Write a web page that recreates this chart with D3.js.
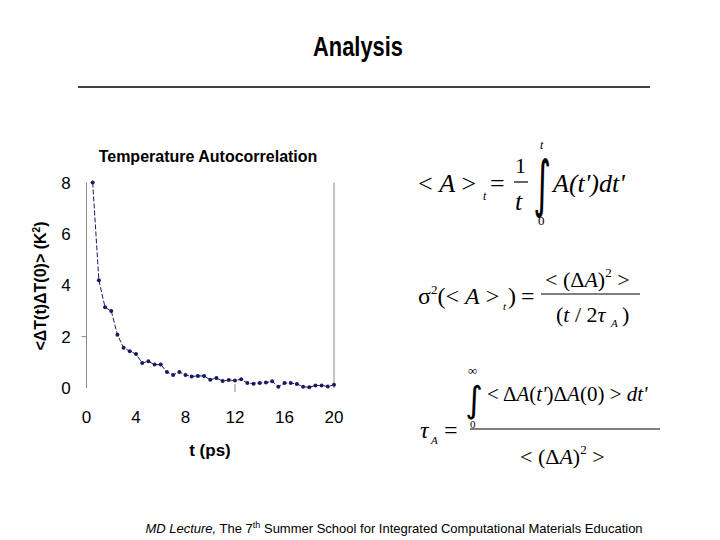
<!DOCTYPE html>
<html><head><meta charset="utf-8">
<script src="https://cdn.jsdelivr.net/npm/d3@7"></script>
<style>body{margin:0;background:#fff}</style>
</head><body>
<svg id="chart" width="720" height="540"></svg>
<script>
// autocorrelation samples
const times = [0.5,1,1.5,2,2.5,3,3.5,4,4.5,5,5.5,6,6.5,7,7.5,8,8.5,9,9.5,10,
  10.5,11,11.5,12,12.5,13,13.5,14,14.5,15,15.5,16,16.5,17,17.5,18,18.5,19,19.5,20];
const values = [8.0,4.19,3.14,3.0,2.07,1.57,1.43,1.32,0.97,1.04,0.91,0.91,0.62,0.51,0.62,0.51,0.45,0.47,0.47,0.32,
  0.39,0.27,0.31,0.29,0.34,0.19,0.17,0.19,0.21,0.26,0.05,0.19,0.19,0.16,0.05,0.03,0.10,0.10,0.06,0.13];
const xTicks = [0,4,8,12,16,20];
const yTicks = [0,2,4,6,8];

const svg = d3.select("#chart");
const navy = "#1a1a5e";

// slide title + rule
svg.append("text").attr("transform", "translate(358,56) scale(0.78,1)").attr("text-anchor", "middle")
  .style("font", "bold 28px 'Liberation Sans', Arial, sans-serif").text("Analysis");
svg.append("line").attr("x1", 78).attr("x2", 650).attr("y1", 87).attr("y2", 87)
  .attr("stroke", "#000").attr("stroke-width", 1.5);

// chart
const x = d3.scaleLinear().domain([0, 20]).range([86.5, 334]);
const y = d3.scaleLinear().domain([0, 8]).range([388, 182.5]);
const g = svg.append("g");
const font = "Liberation Sans, Arial, sans-serif";

g.append("text").attr("x", 208).attr("y", 162).attr("text-anchor", "middle")
  .style("font", `bold 16px ${font}`).text("Temperature Autocorrelation");

g.append("line").attr("x1", x(0)).attr("x2", x(0)).attr("y1", y(8)).attr("y2", y(0))
  .attr("stroke", "#888");
g.append("line").attr("x1", x(20)).attr("x2", x(20)).attr("y1", y(8)).attr("y2", y(0))
  .attr("stroke", "#888");
g.append("line").attr("x1", x(0) - 5).attr("x2", x(0)).attr("y1", y(2)).attr("y2", y(2))
  .attr("stroke", "#888");
g.append("line").attr("x1", x(12)).attr("x2", x(12)).attr("y1", y(0) - 4).attr("y2", y(0) + 4)
  .attr("stroke", "#888");

g.selectAll("text.yt").data(yTicks).join("text").attr("class", "yt")
  .attr("x", 66).attr("y", d => y(d) + 6).attr("text-anchor", "middle")
  .style("font", `17px ${font}`).text(d => d);
g.selectAll("text.xt").data(xTicks).join("text").attr("class", "xt")
  .attr("x", d => x(d)).attr("y", 423).attr("text-anchor", "middle")
  .style("font", `17px ${font}`).text(d => d);

g.append("text").attr("x", 210).attr("y", 456).attr("text-anchor", "middle")
  .style("font", `bold 17px ${font}`).text("t (ps)");
g.append("text").attr("transform", "translate(46,286) rotate(-90)").attr("text-anchor", "middle")
  .style("font", `bold 16px ${font}`)
  .html("&lt;ΔT(t)ΔT(0)&gt; (K<tspan dy='-6' font-size='10'>2</tspan><tspan dy='6'>)</tspan>");

const pts = times.map((t, i) => [t, values[i]]);
g.append("path").datum(pts)
  .attr("d", d3.line().x(d => x(d[0])).y(d => y(d[1])))
  .attr("fill", "none").attr("stroke", navy).attr("stroke-width", 1)
  .attr("stroke-dasharray", "5,2");
g.selectAll("circle").data(pts).join("circle")
  .attr("cx", d => x(d[0])).attr("cy", d => y(d[1])).attr("r", 2).attr("fill", navy);

// formulas
const tf = "'Liberation Serif', 'DejaVu Serif', serif";
const txt = (xx, yy, s, size, italic) => svg.append("text").attr("x", xx).attr("y", yy)
  .style("font-family", tf).style("font-size", size + "px")
  .style("font-style", italic ? "italic" : "normal").html(s);
const bar = (x1, x2, yy) => svg.append("line").attr("x1", x1).attr("x2", x2)
  .attr("y1", yy).attr("y2", yy).attr("stroke", "#000").attr("stroke-width", 1.2);
// tall integral sign: glyph stretched vertically between top and bottom
const integral = (cx, top, bottom) => svg.append("text")
  .attr("transform", `translate(${cx},${bottom}) scale(1.3,${(bottom - top) / 26})`)
  .attr("text-anchor", "middle").style("font-family", "'DejaVu Sans', sans-serif")
  .style("font-size", "26px").attr("dy", "-0.12em").text("∫");

// <A>_t = 1/t ∫ A(t')dt'
txt(418, 192, "&lt; <tspan font-style='italic'>A</tspan> &gt;", 26);
txt(483, 200, "t", 12, true);
txt(490, 192, "=", 26);
txt(515, 173, "1", 22);
bar(514, 528, 182);
txt(515, 210, "t", 26, true);
integral(542, 150, 212);
txt(540, 149, "t", 12, true);
txt(538, 225, "0", 13);
txt(553, 192, "", 26, true).html("A(t')dt'");

// σ²(<A>_t) = <(ΔA)²> / (t/2τA)
txt(418, 304, "σ<tspan dy='-10' font-size='13'>2</tspan><tspan dy='10'>(&lt; <tspan font-style='italic'>A</tspan> &gt;</tspan>", 24);
txt(503, 310, "t", 11, true);
txt(508, 304, ")", 24);
txt(521, 304, "=", 24);
txt(545, 287, "&lt; (Δ<tspan font-style='italic'>A</tspan>)<tspan dy='-10' font-size='13'>2</tspan><tspan dy='10'> &gt;</tspan>", 22);
bar(541, 640, 294);
txt(556, 322, "(<tspan font-style='italic'>t</tspan> / 2<tspan font-style='italic'>τ</tspan>", 22);
txt(611, 327, "A", 11, true);
txt(622, 322, ")", 22);

// τA = ∫<ΔA(t')ΔA(0)>dt' / <(ΔA)²>
txt(420, 438, "τ", 24, true);
txt(431, 444, "A", 11, true);
txt(444, 438, "=", 24);
bar(470, 660, 429);
integral(474, 380, 416);
txt(468, 375, "∞", 13);
txt(470, 428, "0", 11);
txt(487, 401, "&lt; Δ<tspan font-style='italic'>A</tspan>(<tspan font-style='italic'>t'</tspan>)Δ<tspan font-style='italic'>A</tspan>(0) &gt; <tspan font-style='italic'>dt'</tspan>", 21);
txt(520, 464, "&lt; (Δ<tspan font-style='italic'>A</tspan>)<tspan dy='-10' font-size='13'>2</tspan><tspan dy='10'> &gt;</tspan>", 22);

// footer
svg.append("text").attr("x", 394).attr("y", 533).attr("text-anchor", "middle")
  .style("font", `13px ${font}`)
  .html("<tspan font-style='italic'>MD Lecture,</tspan> The 7<tspan dy='-5' font-size='9'>th</tspan><tspan dy='5'> Summer School for Integrated Computational Materials Education</tspan>");
</script>
</body></html>
